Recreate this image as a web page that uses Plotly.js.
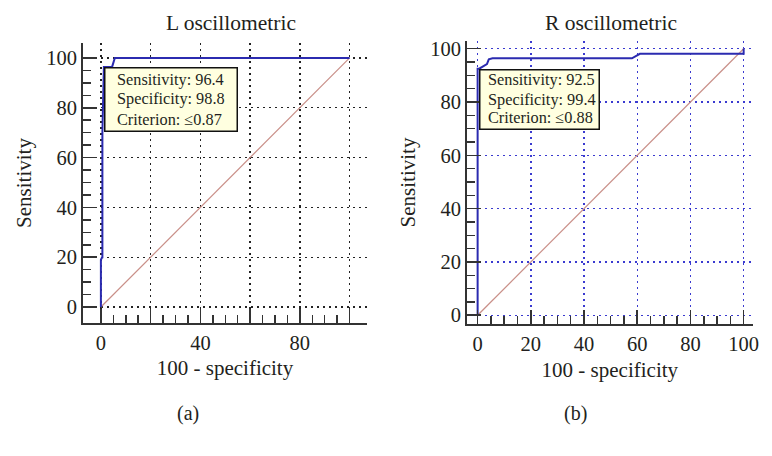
<!DOCTYPE html>
<html><head><meta charset="utf-8">
<script src="https://cdn.plot.ly/plotly-3.0.1.min.js"></script>
<style>html,body{margin:0;padding:0;background:#fff}#chart{width:772px;height:456px}</style>
</head><body><div id="chart"></div>
<script>
// Left panel (L oscillometric) ROC curve: 100 - specificity vs sensitivity
const leftFpr  = [0, 0, 0.5, 0.6, 0.6, 1.2, 4.5, 5.6, 100];
const leftSens = [0, 19, 20, 20, 70, 96.4, 96.4, 100, 100];
// Right panel (R oscillometric) ROC curve
const rightFpr  = [0, 0, 0.6, 2.5, 3.5, 4.2, 5.6, 58, 60, 61, 100, 100];
const rightSens = [0, 92.5, 92.5, 93.5, 94.2, 96.0, 96.4, 96.4, 97.6, 98.1, 98.1, 100];
// Reference (chance) diagonal
const diagX = [0, 100];
const diagY = [0, 100];
// Tick labels
const majorTicks = [0, 20, 40, 60, 80, 100];
const leftXLabels = ['0', '', '40', '', '80', ''];
const allLabels = ['0', '20', '40', '60', '80', '100'];
const minorTicks = [5,10,15,25,30,35,45,50,55,65,70,75,85,90,95];
// Criterion boxes
const leftStats = {sens: '96.4', spec: '98.8', crit: '≤0.87', fpr: 1.2, se: 96.4};
const rightStats = {sens: '92.5', spec: '99.4', crit: '≤0.88', fpr: 0.6, se: 92.5};

const serif = 'Liberation Serif, Times New Roman, serif';
const txt = '#231f20';
const blue = '#2b2bb0';
const diagColor = '#c98f88';

function axis(opts) {
  return Object.assign({
    showline: true, linecolor: '#333', linewidth: 2,
    ticks: 'inside', ticklen: 14, tickwidth: 1.5, tickcolor: '#333',
    tickmode: 'array', tickvals: majorTicks,
    tickfont: {family: serif, size: 20.5, color: txt},
    zeroline: false, showgrid: true, gridwidth: 1.4, griddash: '2px,4px',
    minor: {tickmode: 'array', tickvals: minorTicks, ticks: 'inside', ticklen: 8, tickwidth: 1.5, tickcolor: '#333', showgrid: false},
    fixedrange: true
  }, opts);
}

const data = [
  {x: diagX, y: diagY, xaxis: 'x', yaxis: 'y', mode: 'lines', line: {color: diagColor, width: 1.2}, hoverinfo: 'skip'},
  {x: leftFpr, y: leftSens, xaxis: 'x', yaxis: 'y', mode: 'lines', line: {color: blue, width: 2}},
  {x: diagX, y: diagY, xaxis: 'x2', yaxis: 'y2', mode: 'lines', line: {color: diagColor, width: 1.2}, hoverinfo: 'skip'},
  {x: rightFpr, y: rightSens, xaxis: 'x2', yaxis: 'y2', mode: 'lines', line: {color: blue, width: 2}}
];

// Box (empty annotation) plus three text lines anchored at the criterion point
function statBox(s, xref, yref, w, h, padL, offsets) {
  const base = {xref: xref, yref: yref, x: s.fpr, y: s.se, showarrow: false};
  const out = [Object.assign({}, base, {
    xanchor: 'left', yanchor: 'top', text: ' ', width: w, height: h,
    bgcolor: '#ffffe0', bordercolor: '#111', borderwidth: 1.5, borderpad: 0
  })];
  const lines = ['Sensitivity: ' + s.sens, 'Specificity: ' + s.spec, 'Criterion: ' + s.crit];
  lines.forEach((t, i) => out.push(Object.assign({}, base, {
    xanchor: 'left', yanchor: 'middle', text: t, xshift: padL, yshift: -offsets[i],
    font: {family: serif, size: 16.3, color: txt}
  })));
  return out;
}

const titleFont = {family: serif, size: 21, color: txt};

const layout = {
  width: 772, height: 456,
  margin: {l: 0, r: 0, t: 0, b: 0},
  paper_bgcolor: '#fff', plot_bgcolor: '#fff',
  showlegend: false,
  xaxis: axis({domain: [0.1075, 0.4754], range: [-7.2, 107], anchor: 'y', ticktext: leftXLabels,
    gridcolor: '#222', title: {text: '100 - specificity', font: titleFont, standoff: 8}}),
  yaxis: axis({domain: [0.2917, 0.9057], range: [-6.4, 106], anchor: 'x', ticktext: allLabels,
    gridcolor: '#222', title: {text: 'Sensitivity', font: titleFont, standoff: 9}}),
  xaxis2: axis({domain: [0.6049, 0.975], range: [-4.0, 103.4], anchor: 'y2', ticktext: allLabels,
    gridcolor: '#3a3ad0', title: {text: '100 - specificity', font: titleFont, standoff: 8}}),
  yaxis2: axis({domain: [0.2888, 0.9107], range: [-3.4, 103], anchor: 'x2', ticktext: allLabels,
    gridcolor: '#3a3ad0', title: {text: 'Sensitivity', font: titleFont, standoff: 9}}),
  annotations: [
    {xref: 'paper', yref: 'paper', x: 231/772, y: 1 - 23/456, xanchor: 'center', yanchor: 'middle',
     text: 'L oscillometric', showarrow: false, font: {family: serif, size: 21.5, color: txt}},
    {xref: 'paper', yref: 'paper', x: 611/772, y: 1 - 23/456, xanchor: 'center', yanchor: 'middle',
     text: 'R oscillometric', showarrow: false, font: {family: serif, size: 21.5, color: txt}},
    {xref: 'paper', yref: 'paper', x: 188/772, y: 1 - 413/456, xanchor: 'center', yanchor: 'middle',
     text: '(a)', showarrow: false, font: {family: serif, size: 20, color: txt}},
    {xref: 'paper', yref: 'paper', x: 575/772, y: 1 - 413/456, xanchor: 'center', yanchor: 'middle',
     text: '(b)', showarrow: false, font: {family: serif, size: 20, color: txt}}
  ].concat(
    statBox(leftStats, 'x', 'y', 131, 62, 11, [13, 32, 52.5]),
    statBox(rightStats, 'x2', 'y2', 118, 58, 7, [11, 31, 49])
  )
};

Plotly.newPlot('chart', data, layout, {displayModeBar: false, staticPlot: true});
</script>
</body></html>
